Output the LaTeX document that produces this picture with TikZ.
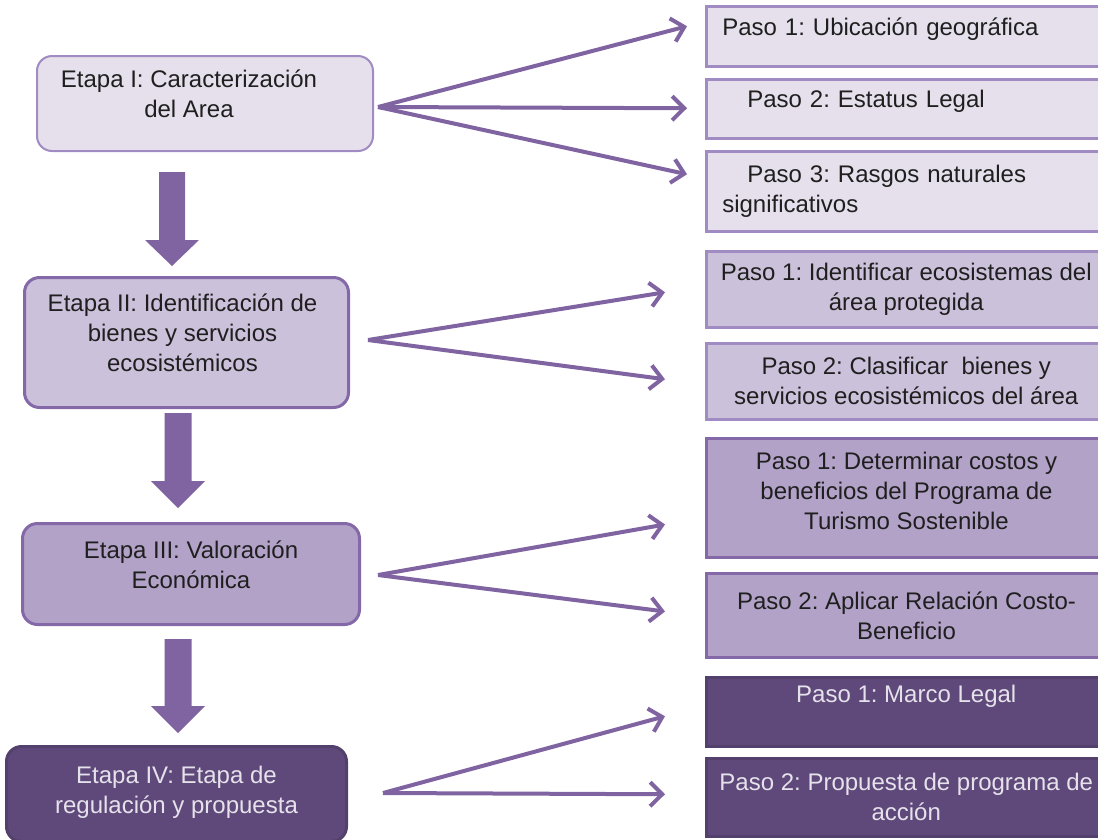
\documentclass[tikz,border=0pt]{standalone}
\usepackage{fontspec}
\setmainfont{Liberation Sans}
\usetikzlibrary{arrows.meta,calc}
\frenchspacing
\definecolor{pA}{HTML}{8064A2}
\definecolor{pL1}{HTML}{E5E0EC}
\definecolor{pL2}{HTML}{CCC1DA}
\definecolor{pL3}{HTML}{B2A2C7}
\definecolor{pD}{HTML}{5F497A}
\definecolor{bL}{HTML}{A08BC2}
\definecolor{bM}{HTML}{8468A8}
\definecolor{bD}{HTML}{54406C}
\definecolor{txt}{HTML}{1F1F1F}
\definecolor{txtw}{HTML}{E6E2EC}
\newcommand\stagetxt[3]{\hspace*{#1}\raisebox{#2}[\height][\depth]{\begin{tabular}{@{}c@{}}#3\end{tabular}}}
\tikzset{
  stage/.style={rounded corners=15pt, line width=3pt, draw=bM, anchor=north west, align=center,
     text=txt, font=\fontsize{24}{30}\selectfont, inner sep=0pt},
  paso/.style={rectangle, line width=2.5pt, draw=bL, anchor=north west, align=center,
     text=txt, font=\fontsize{24}{30}\selectfont, inner sep=0pt, minimum width=410pt},
  conn/.style={draw=pA, line width=4pt, -{Straight Barb[length=12pt,width=24pt,line width=4pt]}},
  block/.style={fill=pA, draw=none}
}
\begin{document}
\begin{tikzpicture}[x=1pt,y=-1pt]
\useasboundingbox (0,0) rectangle (1098,839);
\clip (0,0) rectangle (1098,839);
% stages
\node[stage, fill=pL1, draw=bL, line width=2pt, minimum width=336pt, minimum height=95pt] (e1) at (36,55) {\stagetxt{-32pt}{7pt}{Etapa I: Caracterización\\del Area}};
\node[stage, fill=pL2, minimum width=324pt, minimum height=130pt] (e2) at (23,276) {\stagetxt{-8pt}{7pt}{Etapa II: Identificación de\\bienes y servicios\\ecosistémicos}};
\node[stage, fill=pL3, minimum width=337pt, minimum height=101pt] (e3) at (21,522) {\stagetxt{0pt}{7pt}{Etapa III: Valoración\\Económica}};
\node[stage, fill=pD, draw=bD, text=txtw, minimum width=340pt, minimum height=95pt] (e4) at (5,745) {\stagetxt{0pt}{2pt}{Etapa IV: Etapa de\\regulación y propuesta}};
% block arrows
\coordinate (d1) at (172,172);
\coordinate (d2) at (178,413);
\coordinate (d3) at (178,639);
\fill[block] (d1) ++(-13,0) -- ++(26,0) -- ++(0,68) -- ++(14,0) -- (172,266) -- (145,240) -- (159,240) -- cycle;
\fill[block] (d2) ++(-13.5,0) -- ++(27,0) -- ++(0,68) -- ++(13.5,0) -- (178,508) -- (151,481) -- (164.5,481) -- cycle;
\fill[block] (d3) ++(-13.5,0) -- ++(27,0) -- ++(0,67) -- ++(13.5,0) -- (178,733) -- (151,706) -- (164.5,706) -- cycle;
% group 1
\node[paso, fill=pL1, minimum height=60pt, align=left, text width=392pt] (p11) at (705,5) {\raisebox{7pt}[\height][\depth]{\hspace*{7pt}Paso 1: Ubicación geográfica}};
\node[paso, fill=pL1, minimum height=59pt, align=left, text width=392pt] (p12) at (705,78) {\raisebox{7pt}[\height][\depth]{\hspace*{32pt}Paso 2: Estatus Legal}};
\node[paso, fill=pL1, minimum height=80pt, align=left, text width=392pt] (p13) at (705,150) {\hspace*{32pt}Paso 3: Rasgos naturales\\\hspace*{7pt}significativos};
% group 2
\node[paso, fill=pL2, minimum height=76pt] (p21) at (705,250) {\hspace*{-10pt}Paso 1: Identificar ecosistemas del\\\hspace*{-10pt}área protegida};
\node[paso, fill=pL2, minimum height=76pt] (p22) at (705,342) {\hspace*{-10pt}Paso 2: Clasificar\ \ bienes y\\\hspace*{-10pt}servicios ecosistémicos del área};
% group 3
\node[paso, fill=pL3, draw=bM, line width=3pt, minimum height=119pt] (p31) at (705,437) {\stagetxt{-10pt}{5pt}{Paso 1: Determinar costos y\\beneficios del Programa de\\Turismo Sostenible}};
\node[paso, fill=pL3, draw=bM, line width=3pt, minimum height=84pt] (p32) at (705,572) {\hspace*{-10pt}Paso 2: Aplicar Relación Costo-\\\hspace*{-10pt}Beneficio};
% group 4
\node[paso, fill=pD, draw=bD, text=txtw, minimum height=69pt] (p41) at (705,676) {\hspace*{-10pt}\raisebox{15pt}[\height][\depth]{Paso 1: Marco Legal}};
\node[paso, fill=pD, draw=bD, text=txtw, minimum height=78pt] (p42) at (705,757) {\hspace*{-10pt}Paso 2: Propuesta de programa de\\\hspace*{-10pt}acción};
% connectors
\coordinate (s1) at (378,107);
\coordinate (s2) at (368,340);
\coordinate (s3) at (378,575);
\coordinate (s4) at (383,793);
\draw[conn] (s1) -- ([xshift=-18pt,yshift=10pt]p11.west);
\draw[conn] (s1) -- ([xshift=-18pt,yshift=0.5pt]p12.west);
\draw[conn] (s1) -- ([xshift=-18pt,yshift=17pt]p13.west);
\draw[conn] (s2) -- ([xshift=-40pt,yshift=-3pt]p21.west);
\draw[conn] (s2) -- ([xshift=-40pt,yshift=2pt]p22.west);
\draw[conn] (s3) -- ([xshift=-40pt,yshift=-26.5pt]p31.west);
\draw[conn] (s3) -- ([xshift=-40pt,yshift=4pt]p32.west);
\draw[conn] (s4) -- ([xshift=-40pt,yshift=-4.5pt]p41.west);
\draw[conn] (s4) -- ([xshift=-40pt,yshift=3pt]p42.west);
\end{tikzpicture}
\end{document}
